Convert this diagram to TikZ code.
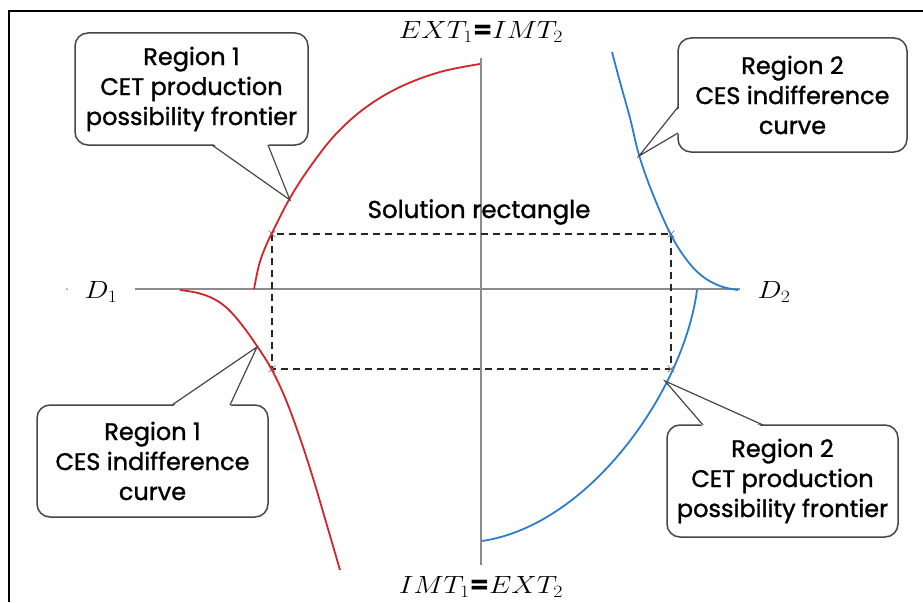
\documentclass[tikz,border=0pt]{standalone}
\usepackage{fontspec}
\setmainfont{Poppins}
\newfontfamily\calloutfont{Poppins}[FakeBold=1.2]
\usepackage{graphicx}
\usetikzlibrary{calc,shapes.misc}
\definecolor{cred}{RGB}{212,36,42}
\definecolor{cblue}{RGB}{44,124,206}
\definecolor{axisgray}{RGB}{140,140,140}
\definecolor{boxgray}{RGB}{70,70,70}
\begin{document}
\begin{tikzpicture}[x=1pt,y=-1pt,
 axis/.style={draw=axisgray,line width=1.6pt},
 curvered/.style={draw=cred,line width=1.8pt},
 curveblue/.style={draw=cblue,line width=1.8pt},
 calloutbox/.style={draw=boxgray,line width=1.5pt,rounded corners=13pt,fill=white,
   align=center,font=\calloutfont\fontsize{24}{30}\selectfont,inner sep=0pt},
 pointer/.style={draw=boxgray,line width=1.2pt},
 mathlabel/.style={font=\fontsize{24}{28}\selectfont,inner sep=0pt},
 plainlabel/.style={font=\calloutfont\fontsize{24.5}{28}\selectfont,inner sep=0pt},
 solrect/.style={draw=black!85,dash pattern=on 7pt off 5pt,line width=1.4pt},
 cornermark/.style={cross out,draw=axisgray,line width=0.8pt,minimum size=6pt,inner sep=0pt}
]
\useasboundingbox (0,0) rectangle (923,602);
% frame
\draw[line width=2.4pt] (9,602) -- (9,11) -- (923,11);

% axes
\coordinate (vtop) at (481,58);
\coordinate (vbot) at (481,565);
\coordinate (hl) at (135,289);
\coordinate (hr) at (740,289);
\draw[axis] (vtop) -- (vbot);
\draw[axis] (hl) -- (hr);
\fill[axisgray] (67,289) circle (1pt);

% solution rectangle
\coordinate (r1) at (272,234);
\coordinate (r2) at (671,369);
\draw[solrect] (r1) rectangle (r2);
\node[cornermark] (m1) at (r1) {};
\node[cornermark] (m2) at (r2) {};
\node[cornermark] (m3) at (r1 |- r2) {};
\node[cornermark] (m4) at (r2 |- r1) {};

% curves
\draw[curvered] plot[smooth,tension=0.6] coordinates {(254,289) (259,265) (265,248) (272,233) (290,198) (310,167) (335,135) (365,108) (400,87) (440,72) (480,64)};
\draw[curvered] plot[smooth,tension=0.6] coordinates {(180,290) (198,293) (214,299) (228,309) (242,325) (257,346) (272,370) (286,400) (300,438) (313,478) (326,522) (340,570)};
\draw[curveblue] plot[smooth,tension=0.6] coordinates {(612,52) (620,82) (630,118) (639,155) (652,192) (670,233) (686,259) (702,276) (720,286) (738,290)};
\draw[curveblue] (697,290) .. controls (684,390) and (590,525) .. (482,541);

% labels
\node[mathlabel] (ext) at (481,32) {\scalebox{1.15}[1]{$EXT_1$\textbf{=}$IMT_2$}};
\node[mathlabel] (imt) at (481,587) {\scalebox{1.15}[1]{$IMT_1$\textbf{=}$EXT_2$}};
\node[mathlabel] (d1) at (101,292) {\scalebox{1.15}[1]{$D_1$}};
\node[mathlabel] (d2) at (774,292) {\scalebox{1.15}[1]{$D_2$}};
\node[plainlabel] (sol) at (479,212) {Solution rectangle};

% callout 1
\node[calloutbox,minimum width=233pt,minimum height=112pt] (c1) at (191.5,89) {Region 1\\CET production\\possibility frontier};
\coordinate (t1) at (290,200);
\coordinate (a1) at (212,145);
\coordinate (b1) at (268,145);
\fill[white] ($(a1)+(0,-2)$) -- (t1) -- ($(b1)+(0,-2)$) -- cycle;
\draw[pointer] (a1) -- (t1) -- (b1);

% callout 2
\node[calloutbox,minimum width=229pt,minimum height=114pt] (c2) at (792.5,95) {Region 2\\CES indifference\\curve};
\coordinate (t2) at (639,156);
\coordinate (a2) at (678,107);
\coordinate (b2) at (678,133);
\fill[white] ($(a2)+(2,0)$) -- (t2) -- ($(b2)+(2,0)$) -- cycle;
\draw[pointer] (a2) -- (t2) -- (b2);

% callout 3
\node[calloutbox,minimum width=231pt,minimum height=112pt] (c3) at (152.5,461) {Region 1\\CES indifference\\curve};
\coordinate (t3) at (257,347);
\coordinate (a3) at (172,405);
\coordinate (b3) at (230,405);
\fill[white] ($(a3)+(0,2)$) -- (t3) -- ($(b3)+(0,2)$) -- cycle;
\draw[pointer] (a3) -- (t3) -- (b3);

% callout 4
\node[calloutbox,minimum width=231pt,minimum height=112pt] (c4) at (782.5,481) {Region 2\\CET production\\possibility frontier};
\coordinate (t4) at (665,381);
\coordinate (a4) at (703,425);
\coordinate (b4) at (763,425);
\fill[white] ($(a4)+(0,2)$) -- (t4) -- ($(b4)+(0,2)$) -- cycle;
\draw[pointer] (a4) -- (t4) -- (b4);
\end{tikzpicture}
\end{document}
